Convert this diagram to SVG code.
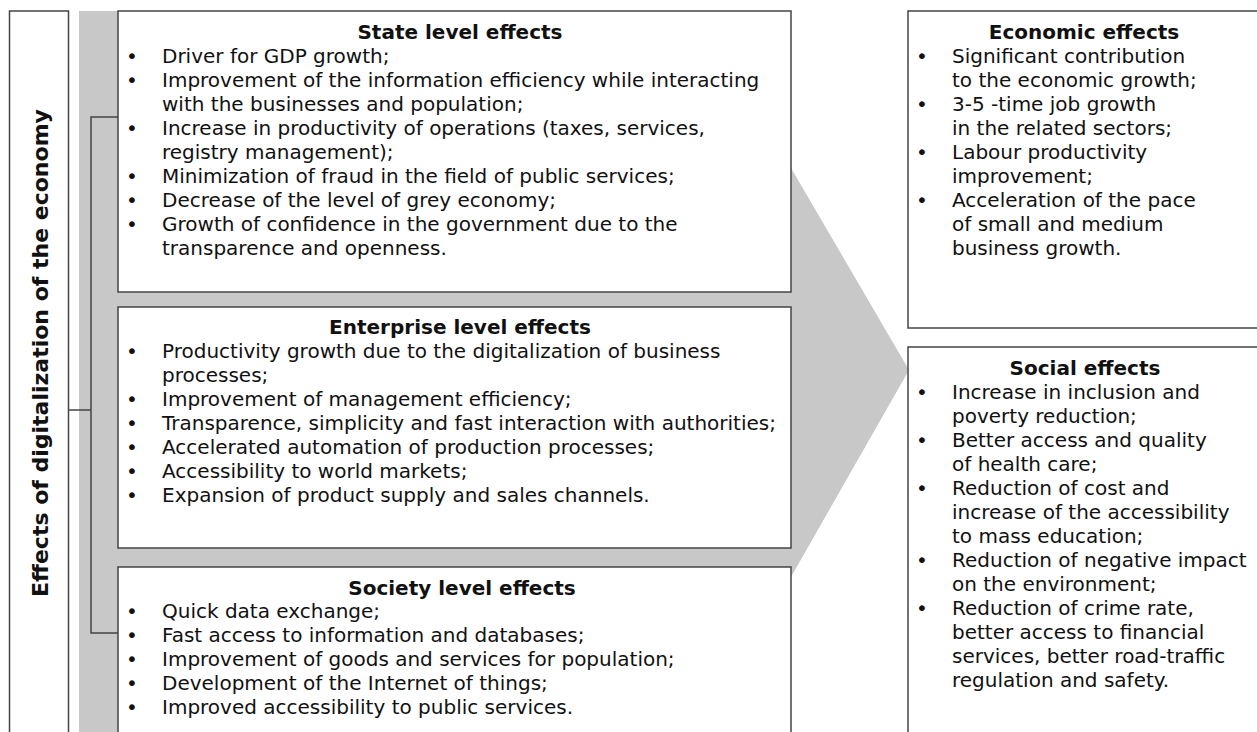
<svg xmlns="http://www.w3.org/2000/svg" width="1257" height="732" viewBox="0 0 1257 732">
<style>
.box{fill:#fff;stroke:#444;stroke-width:1.5}
.ln{fill:none;stroke:#444;stroke-width:1.5}
text{font-family:"DejaVu Sans",Verdana,sans-serif;font-size:20px;fill:#111}
.t{font-weight:bold;text-anchor:middle}
.v{font-size:22px}
</style>
<rect width="1257" height="732" fill="#fff"/>
<polygon points="79,11 791,11 791,168 909,370 791,577 791,732 79,732" fill="#c8c8c8"/>
<g id="connectors">
<polyline class="ln" points="118,117 91,117 91,633 118,633"/>
<line class="ln" x1="68" y1="410" x2="91" y2="410"/>
</g>
<g id="main">
<rect class="box" x="9.5" y="11" width="59" height="730"/>
<text class="t v" transform="translate(48,353) rotate(-90)">Effects of digitalization of the economy</text>
</g>
<g id="state">
<rect class="box" x="118" y="11" width="673" height="281"/>
<text class="t" x="460" y="39">State level effects</text>
<text x="126" y="63">•</text><text x="126" y="87">•</text><text x="126" y="135">•</text><text x="126" y="183">•</text><text x="126" y="207">•</text><text x="126" y="231">•</text>
<text x="162" y="63">Driver for GDP growth;</text>
<text x="162" y="87">Improvement of the information efficiency while interacting</text>
<text x="162" y="111">with the businesses and population;</text>
<text x="162" y="135">Increase in productivity of operations (taxes, services,</text>
<text x="162" y="159">registry management);</text>
<text x="162" y="183">Minimization of fraud in the field of public services;</text>
<text x="162" y="207">Decrease of the level of grey economy;</text>
<text x="162" y="231">Growth of confidence in the government due to the</text>
<text x="162" y="255">transparence and openness.</text>
</g>
<g id="enterprise">
<rect class="box" x="118" y="307" width="673" height="241"/>
<text class="t" x="460" y="334">Enterprise level effects</text>
<text x="126" y="358">•</text><text x="126" y="406">•</text><text x="126" y="430">•</text><text x="126" y="454">•</text><text x="126" y="478">•</text><text x="126" y="502">•</text>
<text x="162" y="358">Productivity growth due to the digitalization of business</text>
<text x="162" y="382">processes;</text>
<text x="162" y="406">Improvement of management efficiency;</text>
<text x="162" y="430">Transparence, simplicity and fast interaction with authorities;</text>
<text x="162" y="454">Accelerated automation of production processes;</text>
<text x="162" y="478">Accessibility to world markets;</text>
<text x="162" y="502">Expansion of product supply and sales channels.</text>
</g>
<g id="society">
<rect class="box" x="118" y="567" width="673" height="180"/>
<text class="t" x="462" y="595">Society level effects</text>
<text x="126" y="618">•</text><text x="126" y="642">•</text><text x="126" y="666">•</text><text x="126" y="690">•</text><text x="126" y="714">•</text>
<text x="162" y="618">Quick data exchange;</text>
<text x="162" y="642">Fast access to information and databases;</text>
<text x="162" y="666">Improvement of goods and services for population;</text>
<text x="162" y="690">Development of the Internet of things;</text>
<text x="162" y="714">Improved accessibility to public services.</text>
</g>
<g id="economic">
<rect class="box" x="908" y="11" width="360" height="317"/>
<text class="t" x="1084" y="39">Economic effects</text>
<text x="916" y="63">•</text><text x="916" y="111">•</text><text x="916" y="159">•</text><text x="916" y="207">•</text>
<text x="952" y="63">Significant contribution</text>
<text x="952" y="87">to the economic growth;</text>
<text x="952" y="111">3-5 -time job growth</text>
<text x="952" y="135">in the related sectors;</text>
<text x="952" y="159">Labour productivity</text>
<text x="952" y="183">improvement;</text>
<text x="952" y="207">Acceleration of the pace</text>
<text x="952" y="231">of small and medium</text>
<text x="952" y="255">business growth.</text>
</g>
<g id="social">
<rect class="box" x="908" y="347" width="360" height="400"/>
<text class="t" x="1085" y="375">Social effects</text>
<text x="916" y="399">•</text><text x="916" y="447">•</text><text x="916" y="495">•</text><text x="916" y="567">•</text><text x="916" y="615">•</text>
<text x="952" y="399">Increase in inclusion and</text>
<text x="952" y="423">poverty reduction;</text>
<text x="952" y="447">Better access and quality</text>
<text x="952" y="471">of health care;</text>
<text x="952" y="495">Reduction of cost and</text>
<text x="952" y="519">increase of the accessibility</text>
<text x="952" y="543">to mass education;</text>
<text x="952" y="567">Reduction of negative impact</text>
<text x="952" y="591">on the environment;</text>
<text x="952" y="615">Reduction of crime rate,</text>
<text x="952" y="639">better access to financial</text>
<text x="952" y="663">services, better road-traffic</text>
<text x="952" y="687">regulation and safety.</text>
</g>
</svg>
